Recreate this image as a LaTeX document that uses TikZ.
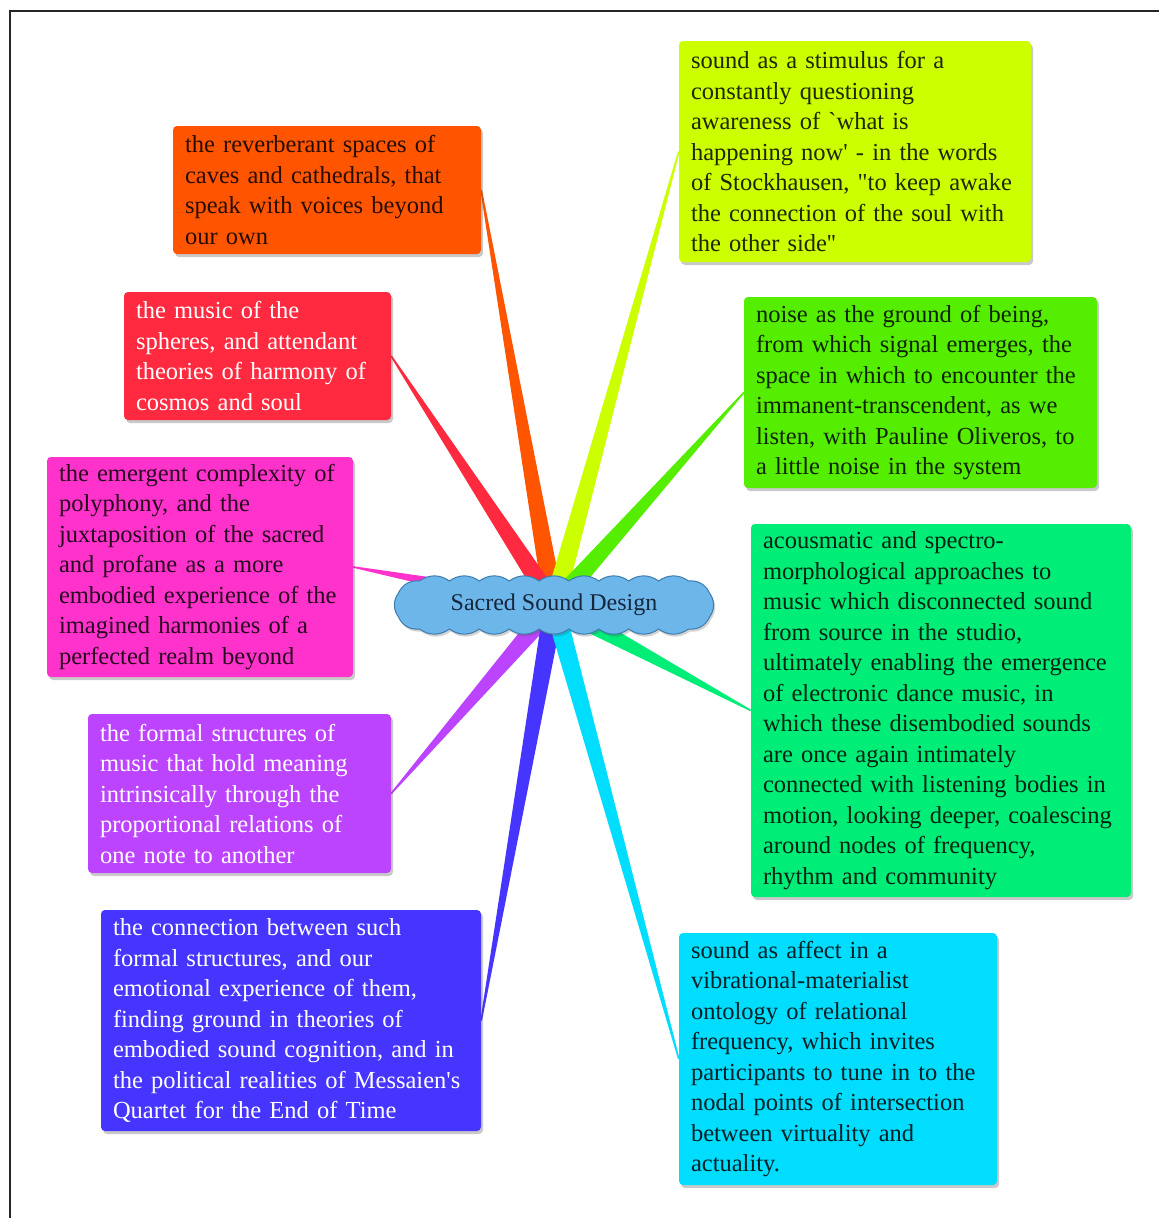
\documentclass[tikz,border=0pt]{standalone}
\usepackage{fontspec}
\setmainfont{Liberation Serif}
\usetikzlibrary{shadows,calc,backgrounds}

\definecolor{cOrange}{HTML}{FF5500}
\definecolor{cRed}{HTML}{FF2A3F}
\definecolor{cMagenta}{HTML}{FF33CC}
\definecolor{cPurple}{HTML}{BD44FF}
\definecolor{cBlue}{HTML}{4634FF}
\definecolor{cLime}{HTML}{CCFF00}
\definecolor{cGreen}{HTML}{55EE00}
\definecolor{cSpring}{HTML}{00EE77}
\definecolor{cCyan}{HTML}{00DDFF}
\definecolor{cloudfill}{HTML}{6CB6EA}
\definecolor{cloudedge}{HTML}{3C7CAE}
\definecolor{cloudtext}{HTML}{16263C}

\newcommand{\sq}{\textquotesingle}

\tikzset{
  topic/.style={rounded corners=4pt, align=left, inner xsep=12pt, inner ysep=0pt,
    font=\fontsize{24.5}{30.5}\selectfont,
    drop shadow={shadow xshift=2pt, shadow yshift=-3pt, opacity=0.3, fill=black!70}},
  darktopic/.style={topic, fill=#1, text=#1!15!black},
  lighttopic/.style={topic, fill=#1, text=white},
  cloudbody/.style={fill=cloudfill, draw=cloudedge, line width=1pt},
  cloudshade/.style={fill=black!70, opacity=0.25},
  hubtext/.style={minimum width=323pt, minimum height=54pt, inner sep=0pt,
    text=cloudtext, font=\fontsize{24}{28}\selectfont},
  frameline/.style={line width=2.5pt, black!85}
}

\begin{document}
\begin{tikzpicture}[x=1pt, y=-1pt]
\useasboundingbox (0,0) rectangle (1159,1218);

% page frame along the top and left edges
\coordinate (fbl) at (10,1218);
\coordinate (ftl) at (10,11);
\coordinate (ftr) at (1159,11);
\draw[frameline] (fbl) -- (ftl) -- (ftr);

% central topic: a flat scalloped cloud, its shadow first
\foreach \dx/\dy/\sty in {1.5/2.5/cloudshade, 0/0/cloudbody}{
  \begin{scope}[shift={(554+\dx,605+\dy)}]
    \path[\sty] (-134.5,-24)
      \foreach \px/\py in {-104.6/-24, -74.7/-24, -44.8/-24, -14.9/-24, 14.9/-24,
          44.8/-24, 74.7/-24, 104.6/-24, 134.5/-24, 155.5/-12, 155.5/12,
          134.5/24, 104.6/24, 74.7/24, 44.8/24, 14.9/24, -14.9/24, -44.8/24,
          -74.7/24, -104.6/24, -134.5/24, -155.5/12, -155.5/-12}
        { to[bend left=36] (\px,\py) }
      to[bend left=36] cycle;
  \end{scope}
}
\node[hubtext] (hub) at (554,605) {Sacred Sound Design};

% left-hand branches
\node[darktopic=cOrange, text width=284pt, minimum height=128pt] (reverb) at (327,190)
  {the reverberant spaces of\\caves and cathedrals, that\\speak with voices beyond\\our own};
\node[lighttopic=cRed, text width=243pt, minimum height=128pt] (spheres) at (257.5,356)
  {the music of the\\spheres, and attendant\\theories of harmony of\\cosmos and soul};
\node[darktopic=cMagenta, text width=282pt, minimum height=220pt] (poly) at (200,567)
  {the emergent complexity of\\polyphony, and the\\juxtaposition of the sacred\\and profane as a more\\embodied experience of the\\imagined harmonies of a\\perfected realm beyond};
\node[lighttopic=cPurple, text width=279pt, minimum height=159pt] (formal) at (239.5,793.5)
  {the formal structures of\\music that hold meaning\\intrinsically through the\\proportional relations of\\one note to another};
\node[lighttopic=cBlue, text width=356pt, minimum height=221pt] (cognition) at (291,1020.5)
  {the connection between such\\formal structures, and our\\emotional experience of them,\\finding ground in theories of\\embodied sound cognition, and in\\the political realities of Messaien\sq s\\Quartet for the End of Time};

% right-hand branches
\node[darktopic=cLime, text width=328pt, minimum height=221pt] (stimulus) at (855,151.5)
  {sound as a stimulus for a\\constantly questioning\\awareness of \textasciigrave what is\\happening now\sq{} - in the words\\of Stockhausen, \textquotedbl to keep awake\\the connection of the soul with\\the other side\sq\sq};
\node[darktopic=cGreen, text width=329pt, minimum height=191pt] (noise) at (920.5,392.5)
  {noise as the ground of being,\\from which signal emerges, the\\space in which to encounter the\\immanent-transcendent, as we\\listen, with Pauline Oliveros, to\\a little noise in the system};
\node[darktopic=cSpring, text width=356pt, minimum height=373pt] (acousmatic) at (941,710.5)
  {acousmatic and spectro-\\morphological approaches to\\music which disconnected sound\\from source in the studio,\\ultimately enabling the emergence\\of electronic dance music, in\\which these disembodied sounds\\are once again intimately\\connected with listening bodies in\\motion, looking deeper, coalescing\\around nodes of frequency,\\rhythm and community};
\node[darktopic=cCyan, text width=294pt, minimum height=252pt] (affect) at (838,1059)
  {sound as affect in a\\vibrational-materialist\\ontology of relational\\frequency, which invites\\participants to tune in to the\\nodal points of intersection\\between virtuality and\\actuality.};

% tapered connectors from the hub to each branch
\begin{scope}[on background layer]
\foreach \n/\a/\c in {reverb/east/cOrange, spheres/east/cRed, poly/east/cMagenta,
    formal/east/cPurple, cognition/east/cBlue, stimulus/west/cLime, noise/west/cGreen,
    acousmatic/west/cSpring, affect/west/cCyan}{
  \fill[\c] ($(hub.center)!10pt!90:(\n.\a)$) -- ($(\n.\a)!0.8pt!-90:(hub.center)$)
    -- ($(\n.\a)!0.8pt!90:(hub.center)$) -- ($(hub.center)!10pt!-90:(\n.\a)$) -- cycle;
}
\end{scope}
\end{tikzpicture}
\end{document}
